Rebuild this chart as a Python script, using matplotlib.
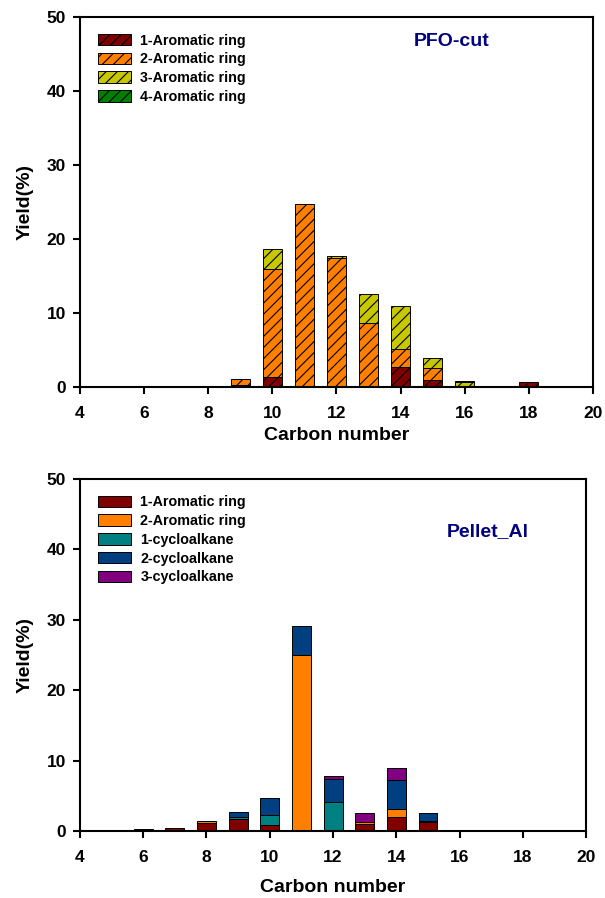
import numpy as np
import matplotlib
matplotlib.use("Agg")
import matplotlib.pyplot as plt
from matplotlib.patches import Patch

plt.rcParams['font.family'] = ['Liberation Sans', 'DejaVu Sans']
plt.rcParams['font.weight'] = 'bold'
plt.rcParams['hatch.linewidth'] = 0.8

# ==== 数据：PFO-cut ====
carbon_top = [9, 10, 11, 12, 13, 14, 15, 16, 17, 18]
ring1_top = [0.3, 1.3, 0.2, 0.1, 0.1, 2.75, 0.95, 0.0, 0.0, 0.65]
ring2_top = [0.8, 14.6, 24.5, 17.4, 8.6, 2.35, 1.65, 0.05, 0.0, 0.0]
ring3_top = [0.0, 2.75, 0.0, 0.2, 3.85, 5.9, 1.3, 0.6, 0.0, 0.0]
ring4_top = [0.0, 0.0, 0.0, 0.0, 0.0, 0.0, 0.0, 0.1, 0.0, 0.0]
labels_top = ['1-Aromatic ring', '2-Aromatic ring', '3-Aromatic ring', '4-Aromatic ring']
colors_top = ['#800000', '#FF8000', '#C8C800', '#008000']

# ==== 数据：Pellet_Al ====
carbon_bot = [6, 7, 8, 9, 10, 11, 12, 13, 14, 15]
ring1_bot = [0.25, 0.4, 1.1, 1.7, 0.9, 0.0, 0.0, 1.0, 1.95, 1.3]
ring2_bot = [0.0, 0.0, 0.3, 0.0, 0.0, 25.0, 0.0, 0.3, 1.24, 0.15]
cyc1_bot = [0.0, 0.0, 0.0, 0.3, 1.34, 0.0, 4.05, 0.0, 0.0, 0.0]
cyc2_bot = [0.0, 0.0, 0.0, 0.67, 2.43, 4.1, 3.28, 0.0, 4.05, 1.05]
cyc3_bot = [0.0, 0.0, 0.0, 0.0, 0.0, 0.0, 0.5, 1.2, 1.71, 0.1]
labels_bot = ['1-Aromatic ring', '2-Aromatic ring', '1-cycloalkane', '2-cycloalkane', '3-cycloalkane']
colors_bot = ['#800000', '#FF8000', '#008080', '#004080', '#800080']

xticks = [4, 6, 8, 10, 12, 14, 16, 18, 20]
yticks = [0, 10, 20, 30, 40, 50]


def stacked(ax, x, series, colors, hatch):
    bottom = np.zeros(len(x))
    for vals, c in zip(series, colors):
        vals = np.array(vals)
        mask = vals > 0
        ax.bar(np.array(x)[mask], vals[mask], width=0.6, bottom=bottom[mask],
               color=c, edgecolor='black', linewidth=0.7, hatch=hatch, zorder=2)
        bottom += vals


def style(ax, title, title_xy, legend_labels, legend_colors, hatch, xlabelpad):
    ax.set_xlim(4, 20)
    ax.set_ylim(0, 50)
    ax.set_xticks(xticks)
    ax.set_yticks(yticks)
    ax.tick_params(direction='out', length=5, width=1.5, labelsize=12.5)
    ax.tick_params(axis='x', pad=9)
    ax.tick_params(axis='y', pad=5)
    for lab in ax.get_xticklabels() + ax.get_yticklabels():
        lab.set_fontweight('bold')
    for sp in ax.spines.values():
        sp.set_linewidth(1.5)
    ax.set_xlabel('Carbon number', fontsize=14, fontweight='bold', labelpad=xlabelpad)
    ax.set_ylabel('Yield(%)', fontsize=14, fontweight='bold', labelpad=9)
    ax.text(title_xy[0], title_xy[1], title, transform=ax.transAxes, color='#000080',
            fontsize=14, fontweight='bold', ha='center', va='center')
    handles = [Patch(facecolor=c, edgecolor='black', linewidth=0.7, hatch=hatch)
               for c in legend_colors]
    ax.legend(handles, legend_labels, loc='upper left', frameon=False,
              prop={'size': 10.3, 'weight': 'bold'}, handlelength=2.35, handleheight=0.85,
              labelspacing=0.33, handletextpad=0.62, borderaxespad=0.5,
              bbox_to_anchor=(0.01, 0.99))


fig = plt.figure(figsize=(6.05, 8.98), dpi=100)
ax1 = fig.add_axes([0.132, 0.569, 0.848, 0.412])
ax2 = fig.add_axes([0.132, 0.0746, 0.837, 0.392])

stacked(ax1, carbon_top, [ring1_top, ring2_top, ring3_top, ring4_top], colors_top, '///')
style(ax1, 'PFO-cut', (0.725, 0.935), labels_top, colors_top, '///', 4)

stacked(ax2, carbon_bot, [ring1_bot, ring2_bot, cyc1_bot, cyc2_bot, cyc3_bot], colors_bot, None)
style(ax2, 'Pellet_Al', (0.805, 0.85), labels_bot, colors_bot, None, 10)

fig.savefig('out.png', dpi=100)
